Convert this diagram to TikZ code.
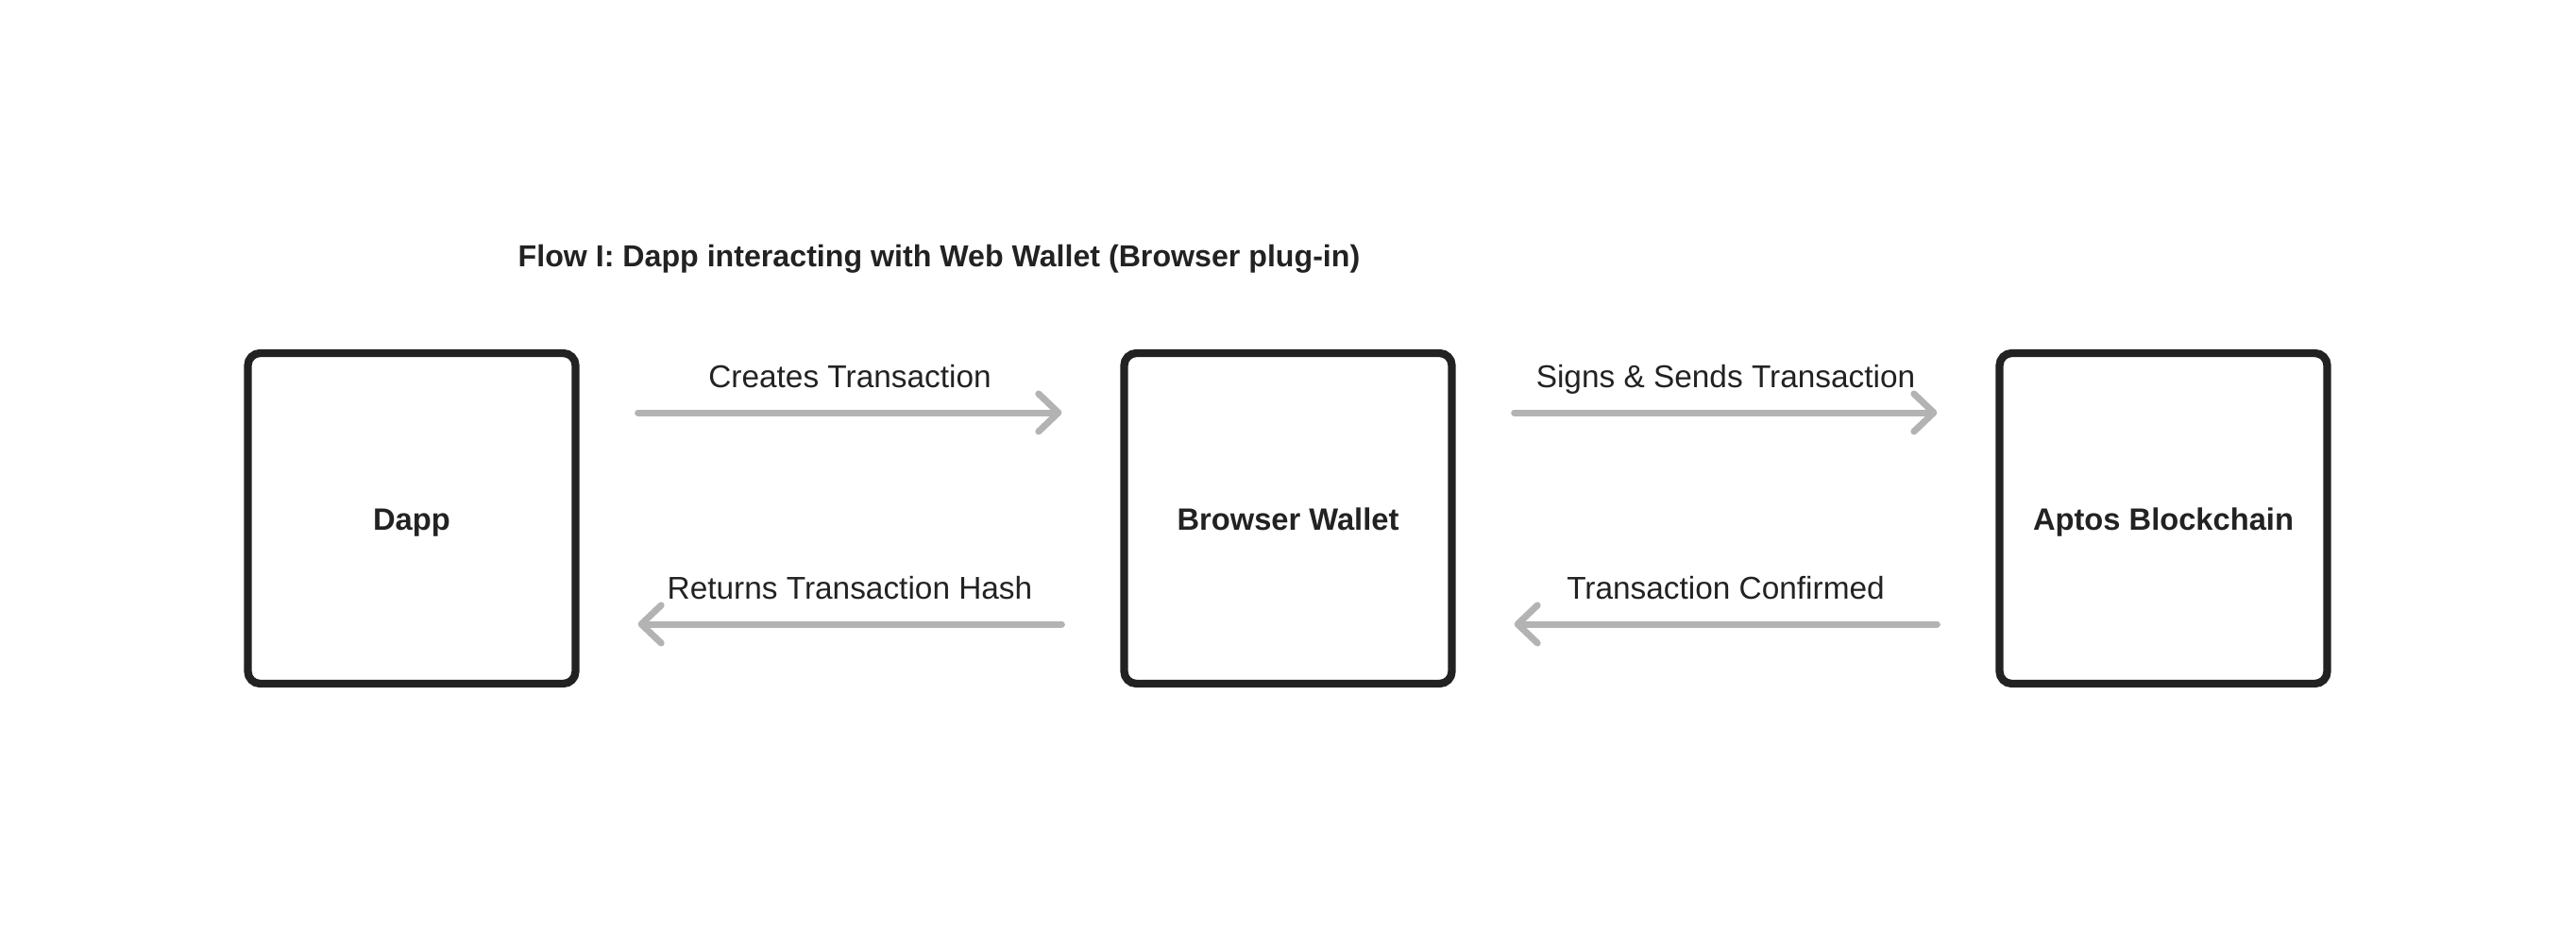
\documentclass[tikz,border=0pt]{standalone}
\usepackage{fontspec}
\setmainfont{Liberation Sans}
\usetikzlibrary{arrows.meta}
\definecolor{ink}{HTML}{222222}
\definecolor{flowgray}{HTML}{B3B3B3}
\tikzset{
  party/.style={draw=ink, line width=0.083cm, rounded corners=0.13cm,
    minimum width=3.47cm, minimum height=3.5cm, text=ink,
    text height=0.72em, text depth=0pt,
    font=\fontsize{9.3}{11}\selectfont\bfseries},
  flow/.style={draw=flowgray, line width=0.07cm, line cap=round,
    -{Straight Barb[length=0.21cm, width=0.4cm, round]},
    shorten <=0.62cm, shorten >=0.62cm},
  msg/.style={midway, anchor=base, yshift=0.27cm, text=ink,
    font=\fontsize{9.5}{11}\selectfont}
}
\begin{document}
\begin{tikzpicture}
\useasboundingbox (0,0) rectangle (27.28,9.86);

\node[anchor=base west, inner sep=0pt, text=ink, font=\fontsize{9.15}{11}\selectfont\bfseries] (title) at (5.48,7.04) {Flow I: Dapp interacting with Web Wallet (Browser plug-in)};

\node[party] (dapp) at (4.36,4.37) {Dapp};
\node[party] (wallet) at (13.64,4.37) {Browser Wallet};
\node[party] (aptos) at (22.91,4.37) {Aptos Blockchain};

\draw[flow] ([yshift=1.12cm]dapp.east) -- ([yshift=1.12cm]wallet.west) node[msg] {Creates Transaction};
\draw[flow] ([yshift=-1.12cm]wallet.west) -- ([yshift=-1.12cm]dapp.east) node[msg] {Returns Transaction Hash};
\draw[flow] ([yshift=1.12cm]wallet.east) -- ([yshift=1.12cm]aptos.west) node[msg] {Signs \& Sends Transaction};
\draw[flow] ([yshift=-1.12cm]aptos.west) -- ([yshift=-1.12cm]wallet.east) node[msg] {Transaction Confirmed};
\end{tikzpicture}
\end{document}
